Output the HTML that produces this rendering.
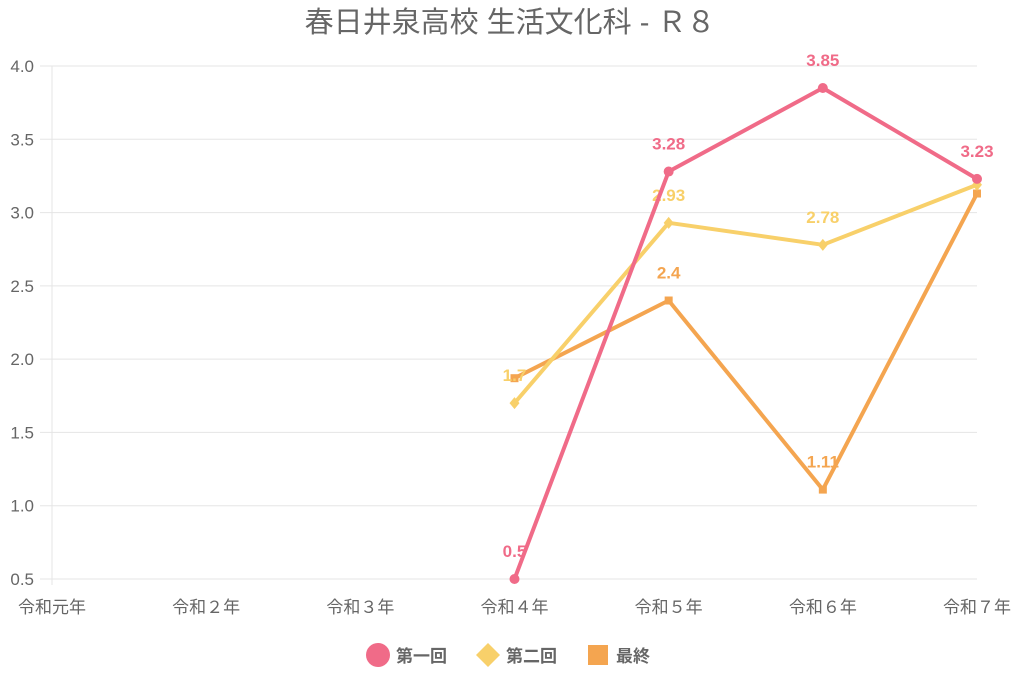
<!DOCTYPE html>
<html><head><meta charset="utf-8"><style>
body{margin:0;background:#fff;font-family:"Liberation Sans","Noto Sans CJK JP",sans-serif}
</style></head><body>
<svg id="c" width="1024" height="683" xmlns="http://www.w3.org/2000/svg" font-family="Liberation Sans, Noto Sans CJK JP, sans-serif"></svg>
<script>
const categories=["令和元年","令和２年","令和３年","令和４年","令和５年","令和６年","令和７年"];
const yTicks=[0.5,1.0,1.5,2.0,2.5,3.0,3.5,4.0];
const s1=[null,null,null,0.5,3.28,3.85,3.23];
const s2=[null,null,null,1.7,2.93,2.78,3.19];
const s3=[null,null,null,1.87,2.4,1.11,3.13];
const s1Labels=["","","","0.5","3.28","3.85","3.23"];
const s2Labels=["","","","1.7","2.93","2.78",""];
const s3Labels=["","","","","2.4","1.11",""];
const svg=document.getElementById('c');const NS="http://www.w3.org/2000/svg";
function mk(t,a,p){const e=document.createElementNS(NS,t);for(const k in a)e.setAttribute(k,a[k]);(p||svg).appendChild(e);return e;}
const x=i=>52+i*(977-52)/6;
const y=v=>579-(v-0.5)*(579-66)/3.5;
let t=mk('text',{x:510,y:32,'text-anchor':'middle','font-size':29,fill:'#666'});t.textContent="春日井泉高校 生活文化科 - Ｒ８";


yTicks.forEach(v=>{const l=mk('line',{x1:40,x2:977,y1:y(v),y2:y(v),stroke:'#e5e5e5','stroke-width':1});


const tx=mk('text',{x:34,y:y(v)+6,'text-anchor':'end','font-size':17,fill:'#666'});tx.textContent=v.toFixed(1);

});
const ax=mk('line',{x1:x(0),x2:x(0),y1:66,y2:585,stroke:'#e5e5e5'});


categories.forEach((c,i)=>{
const tx=mk('text',{x:x(i),y:613,'text-anchor':'middle','font-size':17,fill:'#666'});tx.textContent=c;

});
const series=[{d:s3,lab:s3Labels,c:'#f4a550',m:'sq',n:'final'},{d:s2,lab:s2Labels,c:'#f8d06a',m:'dia',n:'second'},{d:s1,lab:s1Labels,c:'#f06b88',m:'circ',n:'first'}];
series.forEach(s=>{let pts=[];s.d.forEach((v,i)=>{if(v!=null)pts.push(x(i)+','+y(v));});
const pl=mk('polyline',{points:pts.join(' '),fill:'none',stroke:s.c,'stroke-width':4,'stroke-linejoin':'round'});


s.d.forEach((v,i)=>{if(v==null)return;const cx=x(i),cy=y(v);let m;
if(s.m=='circ')m=mk('circle',{cx:cx,cy:cy,r:5,fill:s.c});
else if(s.m=='sq')m=mk('rect',{x:cx-4,y:cy-4,width:8,height:8,fill:s.c});
else m=mk('polygon',{points:`${cx},${cy-6} ${cx+5},${cy} ${cx},${cy+6} ${cx-5},${cy}`,fill:s.c});


if(s.lab[i]){const tx=mk('text',{x:cx,y:cy-22,'text-anchor':'middle','font-size':17,'font-weight':'bold',fill:s.c});tx.textContent=s.lab[i];

}});});
const leg=[["第一回",'#f06b88','circ',378],["第二回",'#f8d06a','dia',488],["最終",'#f4a550','sq',598]];
leg.forEach(l=>{const g=mk('g',{});


if(l[2]=='circ')mk('circle',{cx:l[3],cy:655,r:12,fill:l[1]},g);
else if(l[2]=='dia')mk('polygon',{points:`${l[3]},${643} ${l[3]+12},655 ${l[3]},667 ${l[3]-12},655`,fill:l[1]},g);
else mk('rect',{x:l[3]-10,y:645,width:20,height:20,fill:l[1]},g);
const tx=mk('text',{x:l[3]+18,y:662,'font-size':17,'font-weight':'bold',fill:'#666'},g);tx.textContent=l[0];});
</script>
</body></html>
